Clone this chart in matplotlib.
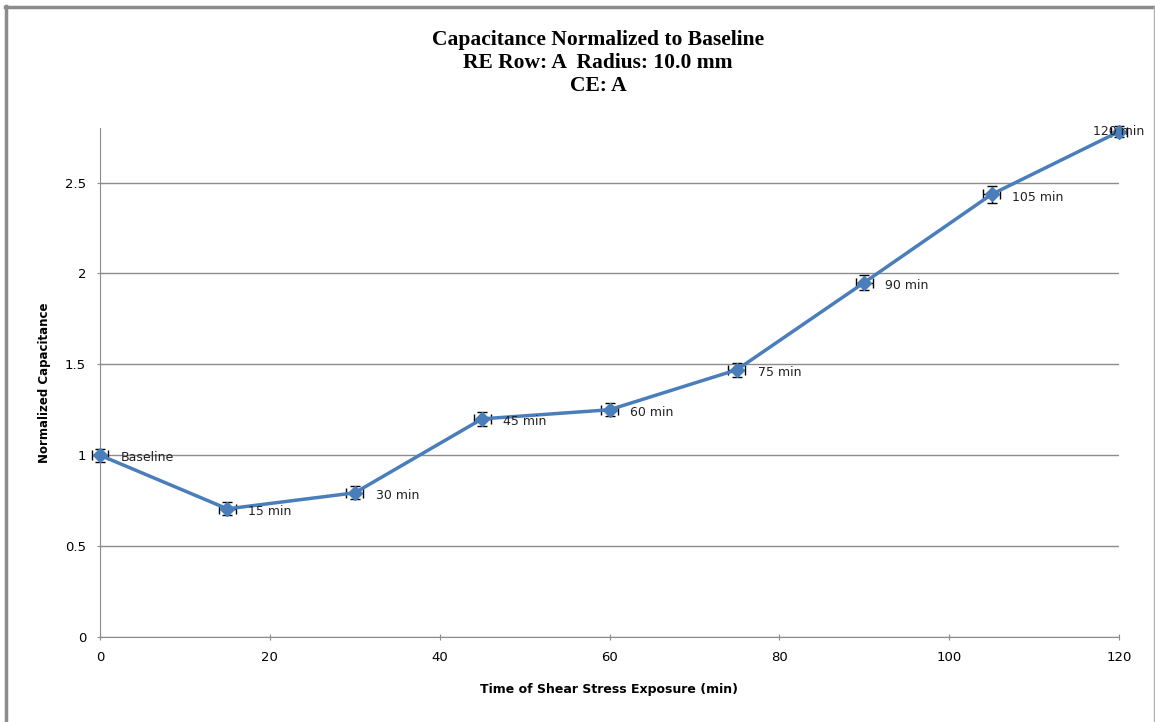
import numpy as np
import matplotlib.pyplot as plt
from matplotlib.lines import Line2D

# data
times = [0, 15, 30, 45, 60, 75, 90, 105, 120]
cap = [1.0, 0.705, 0.793, 1.20, 1.25, 1.47, 1.95, 2.435, 2.78]
cap_err = [0.035, 0.035, 0.035, 0.04, 0.035, 0.04, 0.04, 0.045, 0.03]
time_err = [1, 1, 1, 1, 1, 1, 1, 1, 1]
labels = ['Baseline', '15 min', '30 min', '45 min', '60 min', '75 min', '90 min', '105 min', '120 min']

fig = plt.figure(figsize=(11.55, 7.22), dpi=100)
ax = fig.add_axes([100/1155, 1-637/722, 1019/1155, 509/722])

# screenshot frame: heavy left/top, light right edge
W, H = 1155, 722
fig.add_artist(Line2D([6/W, 6/W], [0, 1-6/H], transform=fig.transFigure, color='#8c8c8c', lw=2.5))
fig.add_artist(Line2D([5/W, 1], [1-7/H, 1-7/H], transform=fig.transFigure, color='#8c8c8c', lw=2.5))
fig.add_artist(Line2D([1153.5/W, 1153.5/W], [0, 1-7/H], transform=fig.transFigure, color='#b0b0b0', lw=1))

ax.errorbar(times, cap, yerr=cap_err, xerr=time_err, fmt='none', ecolor='black',
            elinewidth=1, capsize=3.5, capthick=1, zorder=2, clip_on=False)
ax.plot(times, cap, color='#4a7ebb', linewidth=2.5, marker='D', markersize=7,
        markerfacecolor='#4a7ebb', markeredgecolor='#4a7ebb', zorder=3, clip_on=False)

for t, c, lab in zip(times, cap, labels):
    if lab == '120 min':
        ax.annotate(lab, (t, c), xytext=(-19, 0), textcoords='offset points',
                    va='center', ha='left', fontsize=9, color='#222222',
                    annotation_clip=False)
    else:
        ax.annotate(lab, (t, c), xytext=(15, -2), textcoords='offset points',
                    va='center', ha='left', fontsize=9, color='#222222')

ax.set_xlim(0, 120)
ax.set_ylim(0, 2.8)
ax.set_xticks(np.arange(0, 121, 20))
ax.set_yticks(np.arange(0, 2.51, 0.5))
ax.set_yticklabels(['0', '0.5', '1', '1.5', '2', '2.5'])
ax.grid(axis='y', color='#8c8c8c', linewidth=1)
ax.set_axisbelow(True)
for s in ['top', 'right']:
    ax.spines[s].set_visible(False)
ax.spines['left'].set_color('#8c8c8c')
ax.spines['bottom'].set_color('#8c8c8c')
ax.tick_params(axis='both', labelsize=9.5, color='#8c8c8c', length=4, direction='inout')
ax.tick_params(axis='x', pad=8)
ax.tick_params(axis='y', pad=8)

ax.set_xlabel('Time of Shear Stress Exposure (min)', fontsize=9, fontweight='bold', labelpad=14)
ax.set_ylabel('Normalized Capacitance', fontsize=8.5, fontweight='bold', labelpad=10)

fig.text(598/1155, 1-63/722, 'Capacitance Normalized to Baseline\nRE Row: A  Radius: 10.0 mm\nCE: A',
         ha='center', va='center', fontsize=15.5, fontweight='bold', family='Liberation Serif',
         linespacing=1.2)

fig.savefig('out.png', dpi=100)
